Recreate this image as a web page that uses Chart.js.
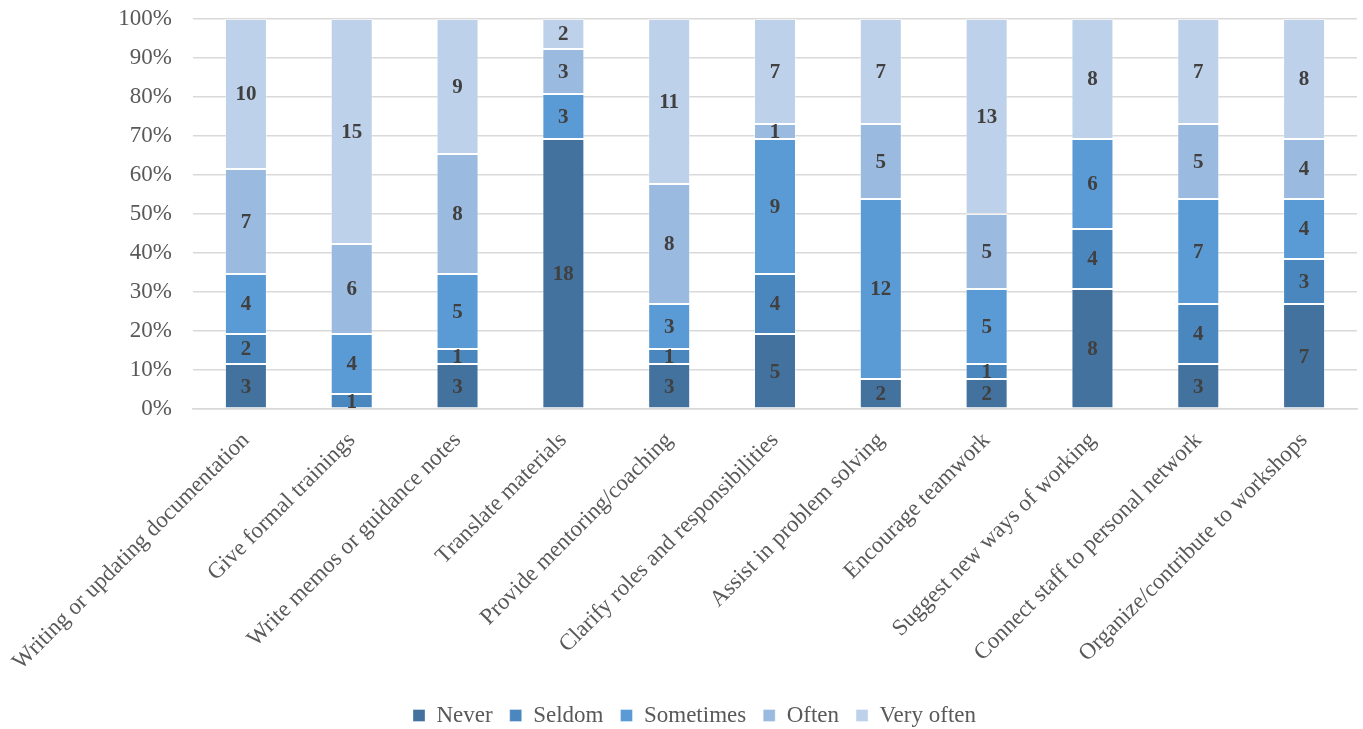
<!DOCTYPE html>
<html>
<head>
<meta charset="utf-8">
<script src="https://cdn.jsdelivr.net/npm/chart.js@4.4.1/dist/chart.umd.min.js"></script>
<style>
  html, body { margin: 0; padding: 0; background: #ffffff; }
  #wrap { width: 1363px; height: 729px; }
</style>
</head>
<body>
<div id="wrap"><canvas id="chart" width="1363" height="729"></canvas></div>
<script>
// Activities asked about in the survey
const categories = [
  'Writing or updating documentation',
  'Give formal trainings',
  'Write memos or guidance notes',
  'Translate materials',
  'Provide mentoring/coaching',
  'Clarify roles and responsibilities',
  'Assist in problem solving',
  'Encourage teamwork',
  'Suggest new ways of working',
  'Connect staff to personal network',
  'Organize/contribute to workshops'
];

// Number of respondents per frequency answer
const never     = [3, 0, 3, 18, 3, 5, 2, 2, 8, 3, 7];
const seldom    = [2, 1, 1, 0, 1, 4, 0, 1, 4, 4, 3];
const sometimes = [4, 4, 5, 3, 3, 9, 12, 5, 6, 7, 4];
const often     = [7, 6, 8, 3, 8, 1, 5, 5, 0, 5, 4];
const veryOften = [10, 15, 9, 2, 11, 7, 7, 13, 8, 7, 8];

const seriesNames = ['Never', 'Seldom', 'Sometimes', 'Often', 'Very often'];
const seriesColors = ['#42729d', '#4b87bf', '#5b9bd5', '#9bbae0', '#bed1ea'];

const counts = [never, seldom, sometimes, often, veryOften];
const totals = categories.map((_, i) => counts.reduce((s, arr) => s + arr[i], 0));

const SERIF = '"Liberation Serif", "Times New Roman", serif';

// Writes the respondent count in the middle of each non-empty segment
const segmentCounts = {
  id: 'segmentCounts',
  afterDatasetsDraw(chart) {
    const ctx = chart.ctx;
    ctx.save();
    ctx.font = 'bold 21px ' + SERIF;
    ctx.fillStyle = '#404040';
    ctx.textAlign = 'center';
    ctx.textBaseline = 'middle';
    chart.data.datasets.forEach((ds, di) => {
      const meta = chart.getDatasetMeta(di);
      meta.data.forEach((bar, i) => {
        const n = ds.counts[i];
        if (!n) return;
        const cy = (bar.y + bar.base) / 2;
        ctx.fillText(String(n), bar.x, cy + 1);
      });
    });
    ctx.restore();
  }
};

// Nudges the legend row right of the canvas centre and a little lower
const legendShift = {
  id: 'legendShift',
  afterLayout(chart) {
    const lg = chart.legend;
    if (!lg) return;
    lg.left += 16;
    lg.right += 16;
    lg.top += 8;
    lg.bottom += 8;
  }
};

const datasets = seriesNames.map((name, k) => ({
  label: name,
  counts: counts[k],
  data: counts[k].map((v, i) => v / totals[i] * 100),
  backgroundColor: seriesColors[k],
  borderColor: 'rgba(255,255,255,0.35)',
  borderWidth: 1,
  borderSkipped: false,
  barPercentage: 0.397,
  categoryPercentage: 1.0
}));

new Chart(document.getElementById('chart'), {
  type: 'bar',
  data: { labels: categories, datasets },
  options: {
    responsive: false,
    animation: false,
    layout: { padding: { left: 0, right: 6, top: 19, bottom: 0 } },
    plugins: {
      legend: {
        position: 'bottom',
        labels: {
          color: '#595959',
          font: { family: SERIF, size: 23 },
          boxWidth: 12,
          boxHeight: 12,
          padding: 17
        }
      },
      tooltip: { enabled: false }
    },
    scales: {
      x: {
        stacked: true,
        grid: { display: false },
        border: { display: true, color: '#d9d9d9', width: 1.5 },
        ticks: {
          color: '#595959',
          font: { family: SERIF, size: 23 },
          minRotation: 45,
          maxRotation: 45,
          autoSkip: false,
          padding: 10
        },
        afterFit(scale) {
          scale.height = 270;
          scale.paddingLeft = 0;
          scale.paddingRight = 0;
        }
      },
      y: {
        stacked: true,
        min: 0,
        max: 100,
        grid: { color: '#d9d9d9', lineWidth: 1.5, drawTicks: false },
        border: { display: false },
        ticks: {
          stepSize: 10,
          color: '#595959',
          font: { family: SERIF, size: 23 },
          padding: 21,
          callback: v => v + '%'
        },
        afterFit(scale) {
          scale.width = 193;
          scale.paddingTop = 0;
          scale.paddingBottom = 0;
        }
      }
    }
  },
  plugins: [segmentCounts, legendShift]
});
</script>
</body>
</html>
